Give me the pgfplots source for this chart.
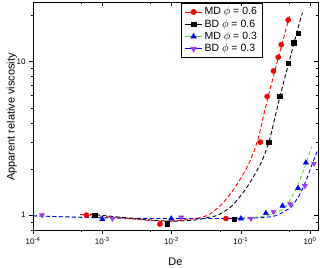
\documentclass[border=0pt]{standalone}
\usepackage{pgfplots}
\pgfplotsset{compat=1.18}
\usepackage{fontspec}
\setmainfont{Liberation Sans}
\definecolor{mdgreen}{RGB}{90,220,40}
\definecolor{bdviolet}{RGB}{160,60,230}
\begin{document}
\begin{tikzpicture}
\begin{axis}[xmode=log, ymode=log, xmin=1e-4, xmax=1.3, ymin=0.8, ymax=24.5,
  scale only axis, width=285pt, height=228pt, at={(0,0)}, anchor=south west,
  major tick length=4pt, minor tick length=2.2pt,
  xtick={1e-4,1e-3,1e-2,1e-1,1}, minor xtick={5e-4,5e-3,5e-2,0.5},
  ytick={1,10}, minor ytick={0.8,0.9,2,3,4,5,6,7,8,9,20},
  every tick/.style={black, line width=0.5pt}, axis line style={line width=0.6pt},
  tick align=outside, xtick pos=left, ytick pos=left,
  xticklabels={10\textsuperscript{-4},10\textsuperscript{-3},10\textsuperscript{-2},10\textsuperscript{-1},10\textsuperscript{0}},
  yticklabels={1,10},
  tick label style={font=\fontsize{8}{9}\selectfont},
  xlabel={De}, ylabel={Apparent relative viscosity},
  label style={font=\fontsize{11}{13}\selectfont},
  xlabel style={at={(axis description cs:0.5,-0.14)}, anchor=center},
  ylabel style={at={(axis description cs:-0.074,0.496)}, anchor=center},
  legend style={at={(axis description cs:0.804,0.995)}, anchor=north east, draw=black, line width=0.5pt,
    fill=white, font=\fontsize{10.5}{11.5}\selectfont, row sep=-0.8pt},
  legend cell align=left,
]
\addlegendimage{red, line width=0.8pt, mark=*, mark size=2.6pt}
\addlegendentry{MD $\phi$ = 0.6}
\addlegendimage{black, line width=0.8pt, mark=square*, mark size=2.3pt}
\addlegendentry{BD $\phi$ = 0.6}
\addlegendimage{mdgreen, line width=0.8pt, mark=triangle*, mark size=3pt, mark options={blue, fill=blue}}
\addlegendentry{MD $\phi$ = 0.3}
\addlegendimage{blue, line width=0.8pt, mark=triangle*, mark size=3pt, mark options={bdviolet, fill=bdviolet, rotate=180}}
\addlegendentry{BD $\phi$ = 0.3}
\addplot[mdgreen, dash pattern=on 4pt off 2.5pt, line width=0.9pt, smooth, forget plot] coordinates {
 (1e-4,0.99) (9.2e-4,0.963) (9.35e-3,0.949) (0.0955,0.956) (0.218,0.985) (0.335,1.046) (0.452,1.144) (0.589,1.40) (0.735,1.76) (0.848,2.09) (1.0,2.6) (1.06,2.8)};
\addplot[blue, dash pattern=on 4pt off 2.5pt, line width=0.9pt, smooth, forget plot] coordinates {
 (1e-4,0.99) (1e-3,0.96) (0.01,0.95) (0.132,0.955) (0.303,0.985) (0.423,1.06) (0.533,1.13) (0.695,1.34) (0.885,1.70) (1.024,2.04) (1.26,2.6)};
\addplot[red, dash pattern=on 4pt off 2.5pt, line width=0.9pt, smooth, forget plot] coordinates {
 (4.8e-4,1.01) (1.8e-3,0.96) (6.7e-3,0.915) (0.0154,0.93) (0.0316,0.99) (0.0501,1.148) (0.0794,1.479) (0.1122,1.905) (0.1413,2.344) (0.1778,3.162) (0.2239,4.898) (0.2818,7.413) (0.3548,10.96) (0.4467,16.22) (0.513,20.3)};
\addplot[black, dash pattern=on 4pt off 2.5pt, line width=0.9pt, smooth, forget plot] coordinates {
 (6.6e-4,1.015) (2.5e-3,0.956) (8.75e-3,0.914) (0.0214,0.928) (0.0352,0.971) (0.0468,1.0) (0.0741,1.148) (0.1175,1.479) (0.1660,1.905) (0.2089,2.344) (0.2630,3.162) (0.3311,4.898) (0.4169,7.413) (0.5248,10.96) (0.6607,16.22) (0.776,20.9)};
\addplot[only marks, red, mark=*, mark size=2.6pt, forget plot] coordinates {
 (5.9e-4,1.0) (6.8e-3,0.874) (0.061,0.95) (0.191,2.99) (0.24,5.93) (0.296,8.7) (0.347,10.7) (0.383,12.9) (0.482,18.7)};
\addplot[only marks, black, mark=square*, mark size=2.3pt, forget plot] coordinates {
 (7.8e-4,1.0) (8.7e-3,0.88) (0.08,0.94) (0.251,2.99) (0.364,5.95) (0.482,9.8) (0.582,13.3) (0.671,15.3)};
\addplot[only marks, blue, mark=triangle*, mark size=3pt, forget plot] coordinates {
 (1e-3,0.94) (9.9e-3,0.95) (0.10,0.95) (0.23,1.03) (0.40,1.15) (0.67,1.5) (0.87,2.2)};
\addplot[only marks, bdviolet, mark=triangle*, mark size=3pt, mark options={rotate=180}, forget plot] coordinates {
 (1.35e-4,1.0) (1.4e-3,0.95) (0.0138,0.966) (0.14,0.95) (0.296,1.05) (0.515,1.18) (0.84,1.55) (1.14,2.17)};
\end{axis}
\begin{axis}[xmode=log, ymode=log, xmin=1e-4, xmax=1.3, ymin=0.8, ymax=24.5,
  scale only axis, width=285pt, height=228pt, at={(0,0)}, anchor=south west,
  major tick length=4pt, minor tick length=2.2pt,
  xtick={1e-4,1e-3,1e-2,1e-1,1}, minor xtick={5e-4,5e-3,5e-2,0.5},
  ytick={1,10}, minor ytick={0.8,0.9,2,3,4,5,6,7,8,9,20},
  every tick/.style={black, line width=0.5pt}, axis line style={line width=0.6pt},
  tick align=inside, xtick pos=right, ytick pos=right, xticklabels={}, yticklabels={}]
\end{axis}
\pgfresetboundingbox
\useasboundingbox (-33pt,-37pt) rectangle (287pt,230pt);
\end{tikzpicture}
\end{document}
